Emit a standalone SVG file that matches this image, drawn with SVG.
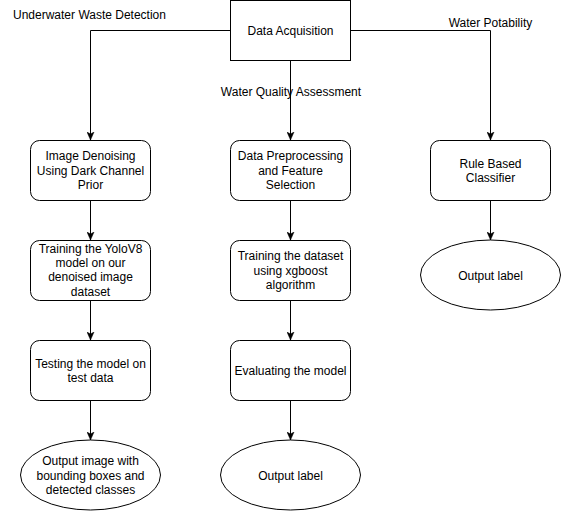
<svg xmlns="http://www.w3.org/2000/svg" width="561" height="511" viewBox="0 0 561 511">
<style>
  .box{fill:#fff;stroke:#000;stroke-width:1}
  .t{font-family:"Liberation Sans",Arial,sans-serif;font-size:12px;fill:#000;text-anchor:middle}
  .e{fill:none;stroke:#000;stroke-width:1}
</style>
<defs>
  <marker id="arr" viewBox="0 0 8 8" refX="8" refY="4" markerWidth="8" markerHeight="8" orient="auto" markerUnits="userSpaceOnUse">
    <path d="M0,0.5 L8,4 L0,7.5 L2,4 Z" fill="#000" stroke="#000" stroke-width="0.5"/>
  </marker>
</defs>
<rect width="561" height="511" fill="#fff"/>
<g id="connectors">
  <path class="e" d="M230.5,30.5 H90.5 V140" marker-end="url(#arr)"/>
  <path class="e" d="M350.5,30.5 H490.5 V140" marker-end="url(#arr)"/>
  <path class="e" d="M290.5,60.5 V140" marker-end="url(#arr)"/>
  <path class="e" d="M90.5,200.5 V240" marker-end="url(#arr)"/>
  <path class="e" d="M90.5,300.5 V340" marker-end="url(#arr)"/>
  <path class="e" d="M90.5,400.5 V440" marker-end="url(#arr)"/>
  <path class="e" d="M290.5,200.5 V240" marker-end="url(#arr)"/>
  <path class="e" d="M290.5,300.5 V340" marker-end="url(#arr)"/>
  <path class="e" d="M290.5,400.5 V440" marker-end="url(#arr)"/>
  <path class="e" d="M490.5,200.5 V240" marker-end="url(#arr)"/>
</g>
<g id="labels">
  <text class="t" x="89.5" y="19">Underwater Waste Detection</text>
  <text class="t" x="291" y="96">Water Quality Assessment</text>
  <text class="t" x="490.5" y="26.5">Water Potability</text>
</g>
<g id="data-acquisition">
  <rect class="box" x="230.5" y="0.5" width="120" height="60"/>
  <text class="t" x="290.5" y="34.5">Data Acquisition</text>
</g>
<g id="image-denoising">
  <rect class="box" x="30.5" y="140.5" width="120" height="60" rx="9" ry="9"/>
  <text class="t" x="90.5" y="160.3">Image Denoising</text>
  <text class="t" x="90.5" y="174.7">Using Dark Channel</text>
  <text class="t" x="90.5" y="189.1">Prior</text>
</g>
<g id="training-yolo">
  <rect class="box" x="30.5" y="240.5" width="120" height="60" rx="9" ry="9"/>
  <text class="t" x="90.5" y="252.6">Training the YoloV8</text>
  <text class="t" x="90.5" y="267">model on our</text>
  <text class="t" x="90.5" y="281.4">denoised image</text>
  <text class="t" x="90.5" y="295.8">dataset</text>
</g>
<g id="testing-model">
  <rect class="box" x="30.5" y="340.5" width="120" height="60" rx="9" ry="9"/>
  <text class="t" x="90.5" y="367.5">Testing the model on</text>
  <text class="t" x="90.5" y="381.9">test data</text>
</g>
<g id="output-image">
  <ellipse class="box" cx="90.5" cy="475" rx="70" ry="35"/>
  <text class="t" x="90.5" y="465.3">Output image with</text>
  <text class="t" x="90.5" y="479.7">bounding boxes and</text>
  <text class="t" x="90.5" y="494.1">detected classes</text>
</g>
<g id="data-preprocessing">
  <rect class="box" x="230.5" y="140.5" width="120" height="60" rx="9" ry="9"/>
  <text class="t" x="290.5" y="160.3">Data Preprocessing</text>
  <text class="t" x="290.5" y="174.7">and Feature</text>
  <text class="t" x="290.5" y="189.1">Selection</text>
</g>
<g id="training-xgboost">
  <rect class="box" x="230.5" y="240.5" width="120" height="60" rx="9" ry="9"/>
  <text class="t" x="290.5" y="260.3">Training the dataset</text>
  <text class="t" x="290.5" y="274.7">using xgboost</text>
  <text class="t" x="290.5" y="289.1">algorithm</text>
</g>
<g id="evaluating-model">
  <rect class="box" x="230.5" y="340.5" width="120" height="60" rx="9" ry="9"/>
  <text class="t" x="290.5" y="374.7">Evaluating the model</text>
</g>
<g id="output-label-center">
  <ellipse class="box" cx="290.5" cy="475" rx="70" ry="35"/>
  <text class="t" x="290.5" y="479.5">Output label</text>
</g>
<g id="rule-based-classifier">
  <rect class="box" x="430.5" y="140.5" width="120" height="60" rx="9" ry="9"/>
  <text class="t" x="490.5" y="167.5">Rule Based</text>
  <text class="t" x="490.5" y="181.9">Classifier</text>
</g>
<g id="output-label-right">
  <ellipse class="box" cx="490.5" cy="275" rx="70" ry="35"/>
  <text class="t" x="490.5" y="279.5">Output label</text>
</g>
</svg>
